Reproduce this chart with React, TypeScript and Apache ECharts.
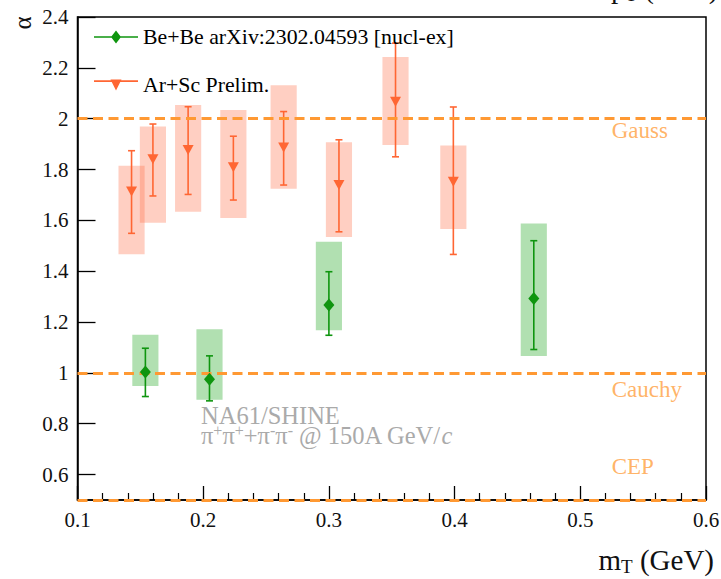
import React, { useEffect, useRef } from "react";
import * as echarts from "echarts";

// Axis tick labels
const xTickValues = [0.1, 0.2, 0.3, 0.4, 0.5, 0.6];
const yTickValues = [0.6, 0.8, 1, 1.2, 1.4, 1.6, 1.8, 2, 2.2, 2.4];

// Be+Be (published)
const beName = "Be+Be arXiv:2302.04593 [nucl-ex]";
const beMt = [0.154, 0.205, 0.3, 0.463];
const beAlpha = [1.004, 0.975, 1.267, 1.293];
const beStatLo = [0.907, 0.89, 1.148, 1.092];
const beStatHi = [1.097, 1.067, 1.398, 1.52];
const beSysLo = [0.948, 0.894, 1.168, 1.066];
const beSysHi = [1.15, 1.172, 1.516, 1.588];

// Ar+Sc (preliminary)
const arName = "Ar+Sc Prelim.";
const arMt = [0.143, 0.16, 0.188, 0.224, 0.264, 0.308, 0.353, 0.399];
const arAlpha = [1.714, 1.84, 1.877, 1.809, 1.887, 1.739, 2.067, 1.752];
const arStatLo = [1.549, 1.696, 1.702, 1.68, 1.739, 1.555, 1.85, 1.466];
const arStatHi = [1.874, 1.979, 2.047, 1.931, 2.028, 1.917, 2.297, 2.046];
const arSysLo = [1.467, 1.591, 1.634, 1.609, 1.724, 1.535, 1.896, 1.566];
const arSysHi = [1.815, 1.969, 2.054, 2.034, 2.132, 1.907, 2.243, 1.895];

// Special values of the Lévy exponent
const limitNames = ["Gauss", "Cauchy", "CEP"];
const limitAlpha = [2, 1, 0.5];

const SERIF = "Liberation Serif";
const BE_COLOR = "#0f950f";
const BE_BOX = "rgba(40,170,40,0.36)";
const AR_COLOR = "#ff6633";
const AR_BOX = "rgba(255,110,70,0.33)";
const LIMIT_COLOR = "#ff9933";
const SYS_HALF_WIDTH = 0.0104;
const LIMIT_LABEL_X = 0.525;
const limitLabelOffsets = [12, 16.5, -34];

const boxSeries = (name: string, mt: number[], lo: number[], hi: number[], fill: string) => ({
  name,
  type: "custom",
  z: 1,
  clip: false,
  data: mt.map((x, i) => [x, lo[i], hi[i]]),
  encode: { x: 0, y: [1, 2] },
  renderItem: (_p: any, api: any) => {
    const x = api.value(0);
    const a = api.coord([x - SYS_HALF_WIDTH, api.value(2)]);
    const b = api.coord([x + SYS_HALF_WIDTH, api.value(1)]);
    return {
      type: "rect",
      shape: { x: a[0], y: a[1], width: b[0] - a[0], height: b[1] - a[1] },
      style: { fill },
    };
  },
});

const errorSeries = (name: string, mt: number[], lo: number[], hi: number[], stroke: string) => ({
  name,
  type: "custom",
  z: 3,
  clip: false,
  data: mt.map((x, i) => [x, lo[i], hi[i]]),
  encode: { x: 0, y: [1, 2] },
  renderItem: (_p: any, api: any) => {
    const x = api.value(0);
    const top = api.coord([x, api.value(2)]);
    const bot = api.coord([x, api.value(1)]);
    const cap = 3.5;
    const style = { stroke, lineWidth: 1.6 };
    return {
      type: "group",
      children: [
        { type: "line", shape: { x1: top[0], y1: top[1], x2: bot[0], y2: bot[1] }, style },
        { type: "line", shape: { x1: top[0] - cap, y1: top[1], x2: top[0] + cap, y2: top[1] }, style },
        { type: "line", shape: { x1: bot[0] - cap, y1: bot[1], x2: bot[0] + cap, y2: bot[1] }, style },
      ],
    };
  },
});

export default function App() {
  const ref = useRef<HTMLDivElement>(null);

  useEffect(() => {
    if (!ref.current) return;
    const chart = echarts.init(ref.current, undefined, { renderer: "svg" });

    const option: any = {
      animation: false,
      backgroundColor: "#ffffff",
      textStyle: { fontFamily: SERIF },
      grid: {
        left: 77.5,
        top: 17,
        width: 628.5,
        height: 483,
        show: true,
        borderColor: "#000",
        borderWidth: 1.5,
        outerBoundsMode: "none",
      },
      xAxis: {
        type: "value",
        min: 0.1,
        max: 0.6,
        interval: 0.1,
        splitLine: { show: false },
        axisLine: { show: true, lineStyle: { color: "#000", width: 1.5 } },
        axisTick: { show: true, inside: true, length: 14, lineStyle: { color: "#000", width: 1.3 } },
        minorTick: { show: true, splitNumber: 5, length: 7, lineStyle: { color: "#000", width: 1.2 } },
        axisLabel: {
          fontFamily: SERIF,
          fontSize: 21,
          color: "#111",
          margin: 9,
          formatter: (v: number) => {
            const r = Math.round(v * 10) / 10;
            return xTickValues.includes(r) ? String(r) : "";
          },
        },
      },
      yAxis: {
        type: "value",
        min: 0.5,
        max: 2.4,
        splitLine: { show: false },
        axisLine: { show: true, lineStyle: { color: "#000", width: 1.5 } },
        axisTick: {
          show: true,
          inside: true,
          length: 18,
          customValues: yTickValues,
          lineStyle: { color: "#000", width: 1.3 },
        },
        axisLabel: {
          customValues: yTickValues,
          fontFamily: SERIF,
          fontSize: 21,
          color: "#111",
          margin: 9,
        },
      },
      legend: {
        orient: "vertical",
        left: 89,
        top: 21,
        itemWidth: 44,
        itemHeight: 13,
        itemGap: 26,
        itemStyle: { borderWidth: 0 },
        textStyle: { fontFamily: SERIF, fontSize: 21.8, color: "#000", lineHeight: 22 },
        data: [
          {
            name: beName,
            icon: "path://M0,5.7 L44,5.7 L44,7.3 L0,7.3 Z M22,0 L27,6.5 L22,13 L17,6.5 Z",
          },
          {
            name: arName,
            icon: "path://M0,0.8 L44,0.8 L44,2.4 L0,2.4 Z M16.5,0 L27.5,0 L22,11 Z",
          },
        ],
      },
      graphic: [
        {
          type: "text",
          x: 22,
          y: 23,
          rotation: Math.PI / 2,
          style: {
            text: "α",
            fontFamily: SERIF,
            fontSize: 25,
            fill: "#111",
            align: "center",
            verticalAlign: "middle",
          },
        },
        {
          type: "text",
          x: 714,
          y: 560,
          style: {
            text: "{a|m}{b|T}{a| (GeV)}",
            align: "right",
            verticalAlign: "middle",
            rich: {
              a: { fontFamily: SERIF, fontSize: 29, fill: "#111", lineHeight: 32 },
              b: { fontFamily: SERIF, fontSize: 19, fill: "#111", verticalAlign: "bottom", lineHeight: 32 },
            },
          },
        },
        {
          type: "text",
          x: 611,
          y: -12,
          style: {
            text: "{a|p}{b|T}{a| (GeV)}",
            align: "left",
            verticalAlign: "middle",
            rich: {
              a: { fontFamily: SERIF, fontSize: 29, fill: "#111", lineHeight: 32 },
              b: { fontFamily: SERIF, fontSize: 19, fill: "#111", verticalAlign: "bottom", lineHeight: 32 },
            },
          },
        },
        {
          type: "text",
          x: 201,
          y: 415,
          style: {
            text: "NA61/SHINE",
            fontFamily: SERIF,
            fontSize: 24.5,
            fill: "#aaaaaa",
            align: "left",
            verticalAlign: "middle",
          },
        },
        {
          type: "text",
          x: 201,
          y: 435,
          style: {
            text: "{t|π}{s|+}{t|π}{s|+}{t|+π}{s|-}{t|π}{s|-}{t| @ 150A GeV/}{i|c}",
            align: "left",
            verticalAlign: "middle",
            rich: {
              t: { fontFamily: SERIF, fontSize: 24.5, fill: "#aaaaaa", lineHeight: 26 },
              s: { fontFamily: SERIF, fontSize: 16, fill: "#aaaaaa", verticalAlign: "top", lineHeight: 26 },
              i: { fontFamily: SERIF, fontSize: 24.5, fontStyle: "italic", fill: "#aaaaaa", lineHeight: 26 },
            },
          },
        },
      ],
      series: [
        {
          name: beName,
          type: "scatter",
          z: 5,
          symbol: "diamond",
          symbolSize: [11, 13],
          itemStyle: { color: BE_COLOR, opacity: 1 },
          data: beMt.map((x, i) => [x, beAlpha[i]]),
        },
        {
          name: arName,
          type: "scatter",
          z: 5,
          symbol: "triangle",
          symbolRotate: 180,
          symbolSize: [11, 10],
          itemStyle: { color: AR_COLOR, opacity: 1 },
          data: arMt.map((x, i) => [x, arAlpha[i]]),
        },
        boxSeries("Be+Be sys", beMt, beSysLo, beSysHi, BE_BOX),
        boxSeries("Ar+Sc sys", arMt, arSysLo, arSysHi, AR_BOX),
        errorSeries("Be+Be stat", beMt, beStatLo, beStatHi, BE_COLOR),
        errorSeries("Ar+Sc stat", arMt, arStatLo, arStatHi, AR_COLOR),
        {
          name: "limits",
          type: "scatter",
          z: 2,
          symbolSize: 0,
          silent: true,
          data: limitAlpha.map((a, i) => ({
            value: [LIMIT_LABEL_X, a],
            label: { offset: [0, limitLabelOffsets[i]] },
            name: limitNames[i],
          })),
          label: {
            show: true,
            position: "right",
            distance: 0,
            formatter: (p: any) => p.name,
            fontFamily: SERIF,
            fontSize: 23,
            color: "#ffa040",
          },
          markLine: {
            silent: true,
            symbol: "none",
            label: { show: false },
            lineStyle: { color: LIMIT_COLOR, width: 3, type: [10, 5.5] },
            data: limitAlpha.map((a) => ({ yAxis: a })),
          },
        },
      ],
    };

    chart.setOption(option);
    return () => chart.dispose();
  }, []);

  return (
    <div
      ref={ref}
      style={{ position: "fixed", left: 0, top: 0, width: 721, height: 579, background: "#fff" }}
    />
  );
}
